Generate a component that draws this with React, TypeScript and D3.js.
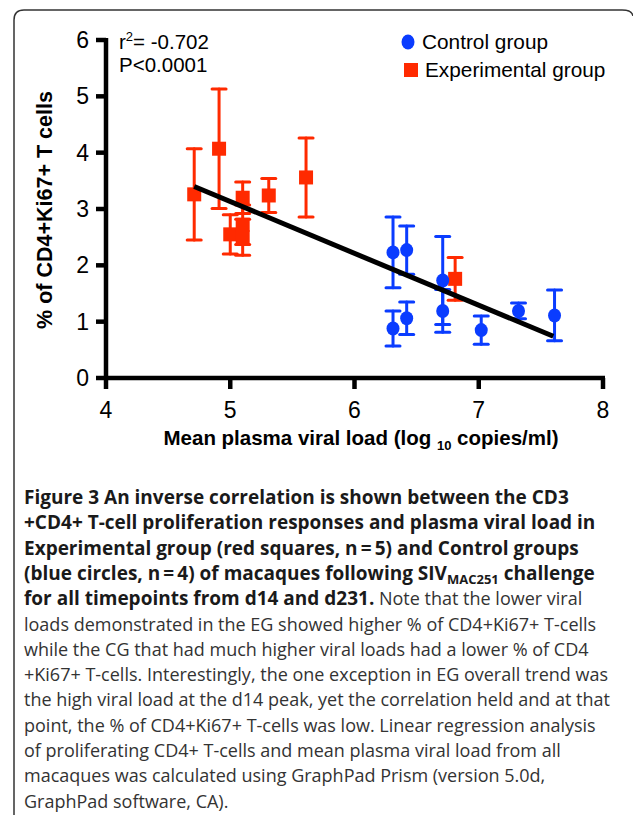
import React from 'react'
import { scaleLinear, line } from 'd3'

// control group (blue circles)
const ctrlX = [6.31, 6.42, 6.71, 6.71, 6.31, 6.42, 7.02, 7.32, 7.61]
const ctrlY = [2.23, 2.27, 1.73, 1.19, 0.88, 1.06, 0.85, 1.19, 1.11]
const ctrlErr = [0.63, 0.43, 0.78, 0.38, 0.31, 0.29, 0.25, 0.14, 0.45]

// experimental group (red squares)
const expX = [4.71, 4.91, 5.0, 5.1, 5.1, 5.1, 5.31, 5.61, 6.81]
const expY = [3.26, 4.07, 2.55, 3.2, 2.72, 2.5, 3.24, 3.56, 1.76]
const expErr = [0.81, 1.06, 0.35, 0.28, 0.35, 0.32, 0.3, 0.7, 0.38]

// regression line ends
const fitX = [4.71, 7.6]
const fitY = [3.4, 0.74]

const xTicks = [4, 5, 6, 7, 8]
const yTicks = [0, 1, 2, 3, 4, 5, 6]

const RED = '#ff2a00'
const BLUE = '#0a3cff'

const captionLines = [
  [{ t: 'Figure 3 An inverse correlation is shown between the CD3', b: true }],
  [{ t: '+CD4+ T-cell proliferation responses and plasma viral load in', b: true }],
  [{ t: 'Experimental group (red squares, n\u2009=\u20095) and Control groups', b: true }],
  [{ t: '(blue circles, n\u2009=\u20094) of macaques following SIV', b: true }, { t: 'MAC251', b: true, sub: true }, { t: ' challenge', b: true }],
  [{ t: 'for all timepoints from d14 and d231.', b: true }, { t: ' Note that the lower viral', b: false }],
  [{ t: 'loads demonstrated in the EG showed higher % of CD4+Ki67+ T-cells', b: false }],
  [{ t: 'while the CG that had much higher viral loads had a lower % of CD4', b: false }],
  [{ t: '+Ki67+ T-cells. Interestingly, the one exception in EG overall trend was', b: false }],
  [{ t: 'the high viral load at the d14 peak, yet the correlation held and at that', b: false }],
  [{ t: 'point, the % of CD4+Ki67+ T-cells was low. Linear regression analysis', b: false }],
  [{ t: 'of proliferating CD4+ T-cells and mean plasma viral load from all', b: false }],
  [{ t: 'macaques was calculated using GraphPad Prism (version 5.0d,', b: false }],
  [{ t: 'GraphPad software, CA).', b: false }],
]

const ErrBar = ({ cx, top, bot, color }) => (
  <g stroke={color} strokeWidth={3} strokeLinecap="round">
    <line x1={cx} x2={cx} y1={top} y2={bot} />
    <line x1={cx - 7} x2={cx + 7} y1={top} y2={top} />
    <line x1={cx - 7} x2={cx + 7} y1={bot} y2={bot} />
  </g>
)

export default function App() {
  const x = scaleLinear().domain([4, 8]).range([106, 603])
  const y = scaleLinear().domain([0, 6]).range([378, 40])
  const fitLine = line<number>()
    .x((d) => x(d))
    .y((_, i) => y(fitY[i]))
  const sans = 'Liberation Sans, Arial, sans-serif'

  return (
    <svg width={633} height={815} style={{ position: 'absolute', left: 0, top: 0, background: '#fff' }}>
      <path d="M14,815 L14,20 Q14,10 24,10 L622,10 Q632,10 633,16" fill="none" stroke="#333" strokeWidth={1.5} />

      {/* axes */}
      <g stroke="#000" strokeWidth={4.5} strokeLinecap="butt">
        <line x1={106} x2={106} y1={y(6) - 2} y2={y(0) + 2} />
        <line x1={104} x2={x(8) + 2} y1={y(0)} y2={y(0)} />
        {yTicks.map((t) => (
          <line key={'yt' + t} x1={96} x2={106} y1={y(t)} y2={y(t)} />
        ))}
        {xTicks.map((t) => (
          <line key={'xt' + t} x1={x(t)} x2={x(t)} y1={y(0)} y2={y(0) + 11} />
        ))}
      </g>
      <g fontFamily={sans} fontSize={23} fill="#000">
        {yTicks.map((t) => (
          <text key={'yl' + t} x={89} y={y(t) + 8} textAnchor="end">{t}</text>
        ))}
        {xTicks.map((t) => (
          <text key={'xl' + t} x={x(t)} y={418} textAnchor="middle">{t}</text>
        ))}
      </g>
      <text x={361} y={445} textAnchor="middle" fontFamily={sans} fontWeight="bold" fontSize={20.5}>
        Mean plasma viral load (log <tspan fontSize={13} dy={5}>10</tspan><tspan dy={-5}> copies/ml)</tspan>
      </text>
      <text transform="translate(52,210) rotate(-90)" textAnchor="middle" fontFamily={sans} fontWeight="bold" fontSize={21.5}>
        % of CD4+Ki67+ T cells
      </text>

      {/* annotation */}
      <g fontFamily={sans} fontSize={20.5}>
        <text x={119} y={49}>r<tspan fontSize={13} dy={-8}>2</tspan><tspan dy={8}>= -0.702</tspan></text>
        <text x={119} y={72}>P&lt;0.0001</text>
      </g>

      {/* legend */}
      <ellipse cx={408} cy={42} rx={6.5} ry={7.5} fill={BLUE} />
      <text x={422} y={49} fontFamily={sans} fontSize={20.8}>Control group</text>
      <rect x={404} y={63} width={14} height={14} fill={RED} />
      <text x={425} y={77} fontFamily={sans} fontSize={20.8}>Experimental group</text>

      {/* error bars */}
      {expX.map((v, i) => (
        <ErrBar key={'ee' + i} cx={x(v)} top={y(expY[i] + expErr[i])} bot={y(expY[i] - expErr[i])} color={RED} />
      ))}
      {ctrlX.map((v, i) => (
        <ErrBar key={'ce' + i} cx={x(v)} top={y(ctrlY[i] + ctrlErr[i])} bot={y(ctrlY[i] - ctrlErr[i])} color={BLUE} />
      ))}
      {expX.map((v, i) => (
        <rect key={'es' + i} x={x(v) - 7} y={y(expY[i]) - 7} width={14} height={14} fill={RED} />
      ))}
      {ctrlX.map((v, i) => (
        <ellipse key={'cs' + i} cx={x(v)} cy={y(ctrlY[i])} rx={6.5} ry={7} fill={BLUE} />
      ))}

      <path d={fitLine(fitX) || ''} stroke="#000" strokeWidth={5} fill="none" />

      {/* caption */}
      <g fontFamily="Open Sans, Noto Sans, sans-serif">
        {captionLines.map((ln, i) => (
          <text key={'cap' + i} x={24} y={504 + i * 25.3}>
            {ln.map((s, j) => (
              <tspan key={j} fontWeight={s.b ? 'bold' : 'normal'} fill={s.b ? '#1a1a1a' : '#333'}
                fontSize={s.sub ? 13 : s.b ? 19 : 18} dy={s.sub ? 4 : j > 0 && ln[j - 1].sub ? -4 : undefined}>
                {s.t}
              </tspan>
            ))}
          </text>
        ))}
      </g>
    </svg>
  )
}
